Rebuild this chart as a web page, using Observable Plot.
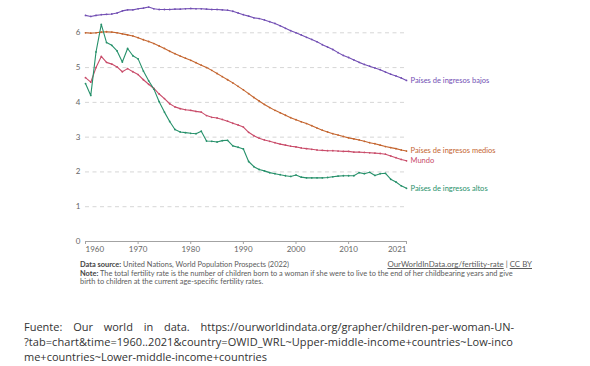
<!DOCTYPE html>
<html>
<head>
<meta charset="utf-8">
<script src="https://cdn.jsdelivr.net/npm/d3@7"></script>
<script src="https://cdn.jsdelivr.net/npm/@observablehq/plot@0.6"></script>
<style>
  html, body { margin: 0; padding: 0; background: #fff; }
  body { width: 590px; height: 366px; position: relative; overflow: hidden; font-family: Lato, sans-serif; }
  #chart { position: absolute; left: 0; top: 0; }
  .note { position: absolute; font-family: Lato, sans-serif; font-size: 7.4px; line-height: 8px; color: #5b5b5b; white-space: nowrap; }
  .note b { color: #444; }
  .link { text-decoration: underline; }
  .cap { position: absolute; left: 24px; width: 490px; font-family: "Open Sans", sans-serif; font-size: 11px; line-height: 15px; color: #333; white-space: nowrap; }
  .just { text-align: justify; text-align-last: justify; white-space: normal; }
</style>
</head>
<body>
<div id="chart"></div>
<div class="note" style="left:80px; top:261px;"><b>Data source:</b> United Nations, World Population Prospects (2022)</div>
<div class="note" id="link" style="right:58px; top:260.3px; font-size:7.9px; line-height:8px;"><span class="link">OurWorldInData.org/fertility-rate</span> | <span class="link">CC BY</span></div>
<div class="note" style="left:80px; top:270px;"><b>Note:</b> The total fertility rate is the number of children born to a woman if she were to live to the end of her childbearing years and give<br>birth to children at the current age-specific fertility rates.</div>
<div class="cap just" style="top:319px;">Fuente: Our world in data. https://ourworldindata.org/grapher/children-per-woman-UN-</div>
<div class="cap" id="cap2" style="top:334px;">?tab=chart&amp;time=1960..2021&amp;country=OWID_WRL~Upper-middle-income+countries~Low-inco</div>
<div class="cap" id="cap3" style="top:349px;">me+countries~Lower-middle-income+countries</div>
<script>
const years = [1960,1961,1962,1963,1964,1965,1966,1967,1968,1969,
  1970,1971,1972,1973,1974,1975,1976,1977,1978,1979,
  1980,1981,1982,1983,1984,1985,1986,1987,1988,1989,
  1990,1991,1992,1993,1994,1995,1996,1997,1998,1999,
  2000,2001,2002,2003,2004,2005,2006,2007,2008,2009,
  2010,2011,2012,2013,2014,2015,2016,2017,2018,2019,2020,2021];

const lowIncome = [6.50,6.47,6.50,6.52,6.53,6.54,6.57,6.63,6.66,6.66,
  6.69,6.71,6.74,6.69,6.67,6.67,6.67,6.68,6.68,6.69,
  6.70,6.69,6.69,6.68,6.67,6.67,6.66,6.65,6.62,6.57,
  6.52,6.48,6.43,6.41,6.37,6.32,6.27,6.20,6.13,6.06,
  6.00,5.94,5.87,5.81,5.74,5.66,5.59,5.52,5.43,5.35,
  5.29,5.22,5.15,5.09,5.04,4.99,4.94,4.87,4.81,4.76,4.70,4.63];

const middleIncome = [6.00,5.99,6.00,6.02,6.03,6.02,6.00,5.97,5.94,5.91,
  5.86,5.80,5.75,5.69,5.62,5.55,5.47,5.40,5.33,5.27,
  5.21,5.14,5.07,5.00,4.92,4.83,4.74,4.65,4.56,4.46,
  4.36,4.25,4.14,4.04,3.94,3.85,3.77,3.70,3.63,3.56,
  3.50,3.44,3.39,3.33,3.26,3.20,3.15,3.10,3.06,3.02,
  2.98,2.95,2.92,2.88,2.84,2.81,2.77,2.73,2.70,2.67,2.63,2.60];

const world = [4.71,4.58,5.00,5.32,5.15,5.10,5.02,4.88,4.97,4.88,
  4.80,4.65,4.52,4.40,4.24,4.11,3.96,3.87,3.82,3.79,
  3.77,3.74,3.72,3.62,3.57,3.55,3.51,3.46,3.40,3.35,
  3.29,3.14,3.04,2.97,2.92,2.88,2.84,2.80,2.77,2.74,
  2.72,2.69,2.67,2.65,2.63,2.62,2.61,2.61,2.60,2.59,
  2.59,2.57,2.57,2.56,2.55,2.54,2.53,2.51,2.46,2.41,2.36,2.32];

const highIncome = [4.54,4.20,5.45,6.24,5.72,5.64,5.48,5.16,5.55,5.34,
  5.25,4.90,4.62,4.38,4.02,3.72,3.45,3.22,3.15,3.13,
  3.11,3.10,3.17,2.89,2.88,2.86,2.90,2.91,2.75,2.71,
  2.66,2.30,2.15,2.07,2.03,1.98,1.95,1.92,1.89,1.87,
  1.91,1.85,1.83,1.83,1.83,1.83,1.84,1.86,1.88,1.89,
  1.89,1.89,1.98,1.95,1.99,1.90,1.95,1.96,1.79,1.71,1.60,1.53];

const seriesNames = ["Países de ingresos bajos", "Países de ingresos medios", "Mundo", "Países de ingresos altos"];
const seriesValues = [lowIncome, middleIncome, world, highIncome];
const seriesColors = ["#7350b4", "#c4652f", "#c94c6a", "#27916b"];

const yTicks = [0, 1, 2, 3, 4, 5, 6];
const gridTicks = [1, 2, 3, 4, 5, 6];
const xTicksMid = [1970, 1980, 1990, 2000, 2010];

const rows = seriesNames.flatMap((name, i) => years.map((yr, j) => ({series: name, year: yr, value: seriesValues[i][j]})));
const lastRows = seriesNames.map((name, i) => ({series: name, year: years[years.length - 1], value: seriesValues[i][seriesValues[i].length - 1]}));

const axisStyle = {tickSize: 3, tickPadding: 2, label: null, fontSize: 8, fill: "#666", stroke: "#a3a3a3", tickFormat: d => String(d)};

const chart = Plot.plot({
  width: 590,
  height: 256,
  marginLeft: 85,
  marginRight: 184,
  marginTop: 1,
  marginBottom: 15,
  style: {fontFamily: "Lato, sans-serif", background: "transparent", overflow: "visible"},
  x: {domain: [1960, 2021]},
  y: {domain: [0, 6.9]},
  color: {domain: seriesNames, range: seriesColors},
  marks: [
    Plot.ruleY(gridTicks, {stroke: "#d6d6d6", strokeWidth: 1, strokeDasharray: "4,3.5"}),
    Plot.axisY({ticks: yTicks, tickSize: 0, tickPadding: 5, label: null, fontSize: 8, fill: "#666", tickFormat: d => String(d)}),
    Plot.ruleY([0], {stroke: "#a3a3a3", strokeWidth: 1}),
    Plot.axisX({...axisStyle, ticks: [1960], textAnchor: "start"}),
    Plot.axisX({...axisStyle, ticks: xTicksMid}),
    Plot.axisX({...axisStyle, ticks: [2021], textAnchor: "end"}),
    Plot.line(rows, {x: "year", y: "value", z: "series", stroke: "series", strokeWidth: 1.1}),
    Plot.dot(rows, {x: "year", y: "value", fill: "series", r: 0.9}),
    Plot.text(lastRows, {x: "year", y: "value", text: "series", fill: "series", textAnchor: "start", dx: 4, fontSize: 7.5})
  ]
});
document.getElementById("chart").appendChild(chart);

function fitLine(id, target) {
  const el = document.getElementById(id);
  const span = document.createElement("span");
  span.textContent = el.textContent;
  el.textContent = "";
  el.appendChild(span);
  const w = span.getBoundingClientRect().width;
  const n = span.textContent.length;
  el.style.letterSpacing = ((target - w) / n) + "px";
}
fitLine("cap2", 489);
fitLine("cap3", 243);
</script>
</body>
</html>
